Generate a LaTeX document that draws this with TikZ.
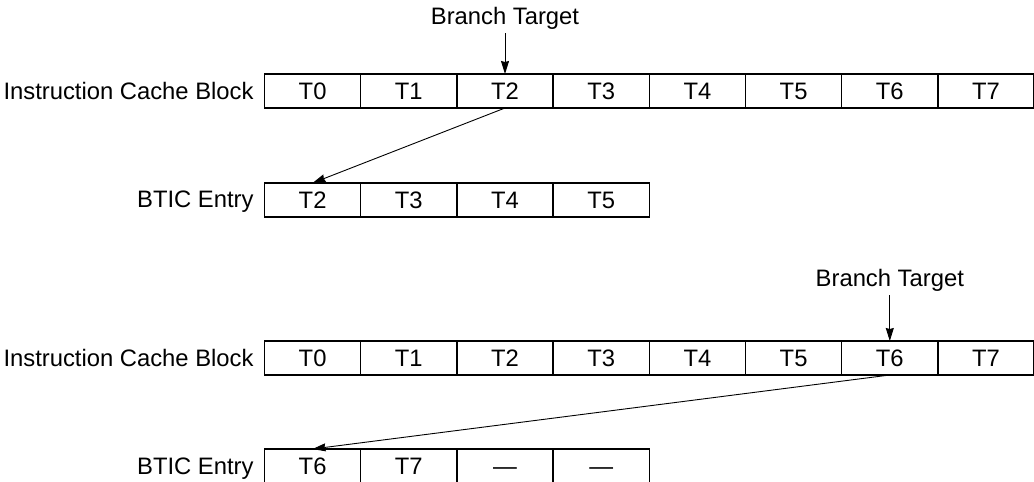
\documentclass[tikz,border=0pt]{standalone}
\usepackage{fontspec}
\setmainfont{Liberation Sans}
\usetikzlibrary{arrows.meta,positioning}

\begin{document}
\begin{tikzpicture}[>={Stealth[length=13pt,width=8pt,inset=1pt]}, x=1pt, y=-1pt, line width=0.9pt,
    font=\fontsize{23.8}{28}\selectfont,
    cell/.style={draw, line width=1.5pt, minimum width=96.2pt, minimum height=34pt, inner sep=0pt, outer sep=0pt,
                 text height=17pt, text depth=0pt},
    tag/.style={inner sep=0pt}]

    \useasboundingbox (0,0) rectangle (1034,482);

    % first example: branch target in T2
    \node[tag, anchor=base east]     (icb1)   at (254,99.6)        {Instruction Cache Block};
    \node[cell, anchor=north west]   (a0)     at (264.5,74)        {T0};
    \foreach \i [remember=\i as \j (initially 0)] in {1,...,7}
        \node[cell, right=0pt of a\j]  (a\i)  {T\i};

    \node[tag, anchor=base east]     (btic1)  at (254,207.6)       {BTIC Entry};
    \node[cell, anchor=north west]   (c0)     at (264.5,183)       {T2};
    \foreach \t [count=\i, count=\j from 0] in {T3,T4,T5}
        \node[cell, right=0pt of c\j]  (c\i)  {\t};

    \node[tag]                       (bt1)    [above=44pt of a2.north]  {Branch Target};

    \path[->]   (bt1)   edge    [shorten <=3pt]     (a2.north)
                (a2.south) edge []                  (c0.north);

    % second example: branch target in T6
    \node[tag, anchor=base east]     (icb2)   at (254,366.6)       {Instruction Cache Block};
    \node[cell, anchor=north west]   (b0)     at (264.5,341)       {T0};
    \foreach \i [remember=\i as \j (initially 0)] in {1,...,7}
        \node[cell, right=0pt of b\j]  (b\i)  {T\i};

    \node[tag, anchor=base east]     (btic2)  at (254,474.6)       {BTIC Entry};
    \node[cell, anchor=north west]   (d0)     at (264.5,449)       {T6};
    \foreach \t [count=\i, count=\j from 0] in {T7,---,---}
        \node[cell, right=0pt of d\j]  (d\i)  {\t};

    \node[tag]                       (bt2)    [above=49pt of b6.north]  {Branch Target};

    \path[->]   (bt2)   edge    [shorten <=3pt]     (b6.north)
                (b6.south) edge []                  (d0.north);

\end{tikzpicture}
\end{document}
